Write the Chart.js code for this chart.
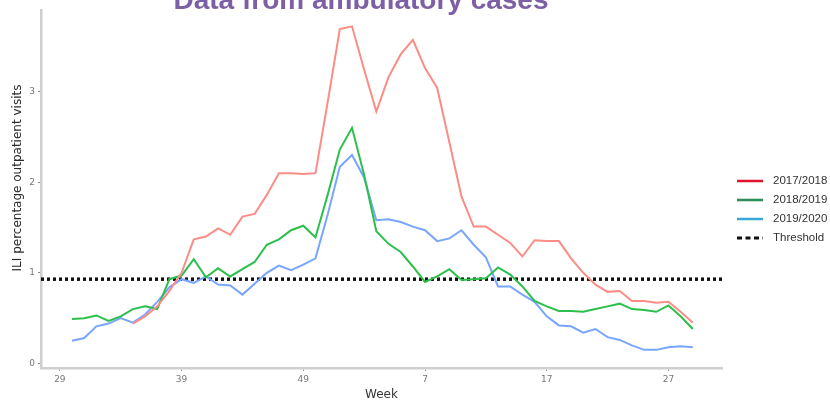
<!DOCTYPE html>
<html>
<head>
<meta charset="utf-8">
<script src="https://cdn.jsdelivr.net/npm/chart.js@4.4.1/dist/chart.umd.min.js"></script>
<style>
  html, body { margin: 0; padding: 0; background: #fff; }
  #contenedor { position: relative; width: 830px; height: 405px; }
</style>
</head>
<body>
<div id="contenedor"><canvas id="grafico-ili"></canvas></div>
<script>
// semanas epidemiologicas (de la 29 a la 29 del año siguiente)
const semanas = [29, 30, 31, 32, 33, 34, 35, 36, 37, 38, 39, 40, 41, 42, 43, 44, 45, 46, 47, 48, 49, 50, 51, 52,
  1, 2, 3, 4, 5, 6, 7, 8, 9, 10, 11, 12, 13, 14, 15, 16, 17, 18, 19, 20, 21, 22, 23, 24, 25, 26, 27, 28, 29];

const temporadas = ["2017/2018", "2018/2019", "2019/2020"];

// % de consultas ILI por semana (null = sin dato)
const ili2017 = [null, null, null, null, null, null, 0.44, 0.52, 0.63, 0.80, 1.00, 1.37, 1.40, 1.49, 1.42, 1.62, 1.65, 1.86, 2.10, 2.10, 2.09, 2.10,
  2.88, 3.69, 3.72, 3.24, 2.78, 3.16, 3.41, 3.57, 3.26, 3.04, 2.44, 1.84, 1.51, 1.51, 1.42, 1.33, 1.18, 1.36, 1.35, 1.35,
  1.16, 1.00, 0.87, 0.79, 0.80, 0.69, 0.69, 0.67, 0.68, 0.57, 0.45];
const ili2018 = [null, 0.49, 0.50, 0.53, 0.47, 0.52, 0.60, 0.63, 0.60, 0.93, 0.97, 1.15, 0.95, 1.05, 0.96, 1.04, 1.12, 1.31, 1.37, 1.47, 1.52, 1.39,
  1.86, 2.36, 2.60, 2.08, 1.46, 1.32, 1.23, 1.07, 0.90, 0.96, 1.04, 0.92, 0.93, 0.94, 1.06, 0.98, 0.85, 0.69, 0.63, 0.58,
  0.58, 0.57, 0.60, 0.63, 0.66, 0.60, 0.59, 0.57, 0.64, 0.52, 0.38];
const ili2019 = [null, 0.25, 0.28, 0.41, 0.44, 0.50, 0.45, 0.54, 0.68, 0.84, 0.93, 0.89, 0.96, 0.87, 0.86, 0.76, 0.88, 1.00, 1.08, 1.03, 1.09, 1.16,
  1.64, 2.17, 2.30, 2.05, 1.58, 1.59, 1.56, 1.51, 1.47, 1.35, 1.38, 1.47, 1.31, 1.17, 0.85, 0.85, 0.76, 0.68, 0.52, 0.42,
  0.41, 0.34, 0.38, 0.29, 0.26, 0.20, 0.15, 0.15, 0.18, 0.19, 0.18];
const umbral = 0.93;

// limites de los ejes
const X_MIN = -1.55;
const X_MAX = 54.4;
const Y_MIN = -0.05;
const Y_MAX = 3.9;

function aPuntos(serie) {
  return serie.map((v, i) => ({ x: i, y: v }));
}

// titulo, titulo del eje y y leyenda dibujados a mano para ubicarlos igual que el original
const extras = {
  id: "extras",
  afterDraw(chart) {
    const ctx = chart.ctx;
    ctx.save();
    ctx.fillStyle = "#7d5fa6";
    ctx.font = "bold 28px 'Liberation Sans', Arial, sans-serif";
    ctx.textAlign = "center";
    ctx.textBaseline = "alphabetic";
    ctx.fillText("Data from ambulatory cases", 361, 9);

    ctx.translate(18, 178);
    ctx.rotate(-Math.PI / 2);
    ctx.fillStyle = "#2a2a2a";
    ctx.font = "12px 'DejaVu Sans', sans-serif";
    ctx.textBaseline = "middle";
    ctx.fillText("ILI percentage outpatient visits", 0, 0);
    ctx.restore();

    ctx.save();
    ctx.font = "11.5px 'Liberation Sans', Arial, sans-serif";
    ctx.textBaseline = "middle";
    ctx.textAlign = "left";
    chart.data.datasets.forEach((ds, k) => {
      const y = 181 + k * 19;
      ctx.beginPath();
      ctx.strokeStyle = ds.colorLeyenda;
      ctx.lineWidth = ds.borderDash ? 3 : 2.5;
      ctx.setLineDash(ds.borderDash ? [5, 3.5] : []);
      ctx.moveTo(737, y);
      ctx.lineTo(763, y);
      ctx.stroke();
      ctx.setLineDash([]);
      ctx.fillStyle = "#333";
      ctx.fillText(ds.label, 773, y);
    });
    ctx.restore();
  },
};

const comunEje = {
  border: { color: "#cfcfcf", width: 2.5 },
  grid: { drawOnChartArea: false, drawTicks: true, tickLength: 3, color: "#888" },
};

new Chart(document.getElementById("grafico-ili"), {
  type: "line",
  data: {
    datasets: [
      { label: temporadas[0], data: aPuntos(ili2017), borderColor: "#fb8c86", colorLeyenda: "#e3122f" },
      { label: temporadas[1], data: aPuntos(ili2018), borderColor: "#2cbf4c", colorLeyenda: "#2e8b57" },
      { label: temporadas[2], data: aPuntos(ili2019), borderColor: "#78a6ff", colorLeyenda: "#3aa8d4" },
      {
        label: "Threshold",
        data: [{ x: X_MIN, y: umbral }, { x: X_MAX, y: umbral }],
        borderColor: "#111",
        colorLeyenda: "#111",
        borderWidth: 3.5,
        borderDash: [3, 3],
      },
    ],
  },
  options: {
    responsive: true,
    maintainAspectRatio: false,
    animation: false,
    parsing: false,
    datasets: { line: { pointRadius: 0, borderWidth: 2, tension: 0, spanGaps: false } },
    layout: { padding: { top: 10, right: 108, left: 0, bottom: 0 } },
    scales: {
      x: {
        type: "linear",
        min: X_MIN,
        max: X_MAX,
        ...comunEje,
        ticks: {
          stepSize: 10,
          includeBounds: false,
          color: "#777",
          font: { family: "'DejaVu Sans', sans-serif", size: 9 },
          padding: 3,
          maxRotation: 0,
          callback: (v) => semanas[v],
        },
        title: {
          display: true,
          text: "Week",
          color: "#333",
          font: { family: "'DejaVu Sans', sans-serif", size: 12 },
          padding: { top: 0, bottom: 3 },
        },
        afterFit: (s) => { s.height = 37; },
      },
      y: {
        min: Y_MIN,
        max: Y_MAX,
        ...comunEje,
        ticks: {
          stepSize: 1,
          includeBounds: false,
          color: "#777",
          font: { family: "'DejaVu Sans', sans-serif", size: 9 },
          padding: 3,
        },
        afterFit: (s) => { s.width = 41; },
      },
    },
    plugins: {
      legend: { display: false },
      tooltip: { enabled: false },
    },
  },
  plugins: [extras],
});
</script>
</body>
</html>
